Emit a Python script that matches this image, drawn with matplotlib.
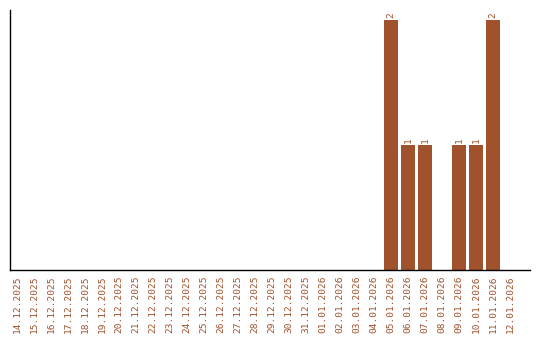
import matplotlib
matplotlib.use("Agg")
import matplotlib.pyplot as plt
import numpy as np

# =========================
# Data
# =========================

dates = [
    "14.12.2025", "15.12.2025", "16.12.2025", "17.12.2025", "18.12.2025",
    "19.12.2025", "20.12.2025", "21.12.2025", "22.12.2025", "23.12.2025",
    "24.12.2025", "25.12.2025", "26.12.2025", "27.12.2025", "28.12.2025",
    "29.12.2025", "30.12.2025", "31.12.2025", "01.01.2026", "02.01.2026",
    "03.01.2026", "04.01.2026", "05.01.2026", "06.01.2026", "07.01.2026",
    "08.01.2026", "09.01.2026", "10.01.2026", "11.01.2026", "12.01.2026",
]
counts = [0] * 22 + [2, 1, 1, 0, 1, 1, 2, 0]

bar_color = "#A0522D"
font = "DejaVu Sans Mono"


def main():
    fig = plt.figure(figsize=(5.4, 3.4), dpi=100)
    ax = fig.add_axes([10 / 540, 70 / 340, 520 / 540, 260 / 340])

    x = np.arange(len(dates))
    bars = ax.bar(x, counts, width=0.82, color=bar_color)

    for rect, v in zip(bars, counts):
        if v > 0:
            ax.text(rect.get_x() + rect.get_width() / 2, v + 0.015, str(v),
                    rotation=90, ha="center", va="bottom",
                    fontsize=6.8, family=font, color=bar_color)

    ax.set_xlim(-0.41, 30.18)
    ax.set_ylim(0, 2.08)

    ax.set_xticks(x)
    ax.set_xticklabels(dates, rotation=90, fontsize=6.8, family=font,
                       color=bar_color)
    ax.tick_params(axis="x", length=0, pad=4)
    ax.set_yticks([])

    ax.spines["top"].set_visible(False)
    ax.spines["right"].set_visible(False)
    ax.spines["left"].set_linewidth(1.0)
    ax.spines["bottom"].set_linewidth(1.0)

    fig.savefig("out.png", dpi=100)


if __name__ == "__main__":
    main()
